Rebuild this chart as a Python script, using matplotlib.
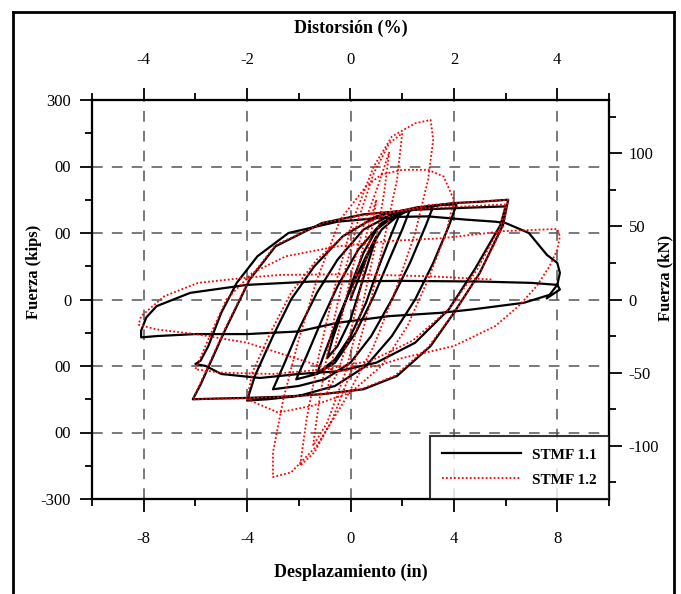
import numpy as np
import matplotlib
matplotlib.use("Agg")
import matplotlib.pyplot as plt
from matplotlib.lines import Line2D
from matplotlib.ticker import MultipleLocator

plt.rcParams['font.family'] = ['Liberation Serif', 'DejaVu Serif']
plt.rcParams['axes.unicode_minus'] = False

# STMF 1.1 (desplazamiento in, fuerza kips)
stmf11_x = [0, 0.4, 0.8, 1.0, 0.8, 0.4, 0.0, -0.5, -0.9, -0.7, -0.3, 0.1, 0.5,
            1.0, 1.5, 1.9, 1.6, 1.1, 0.6, 0.0, -0.6, -1.3, -1.0, -0.5, 0.0, 0.6, 1.2,
            1.8, 2.3, 2.0, 1.5, 0.9, 0.2, -0.6, -1.3, -2.1, -1.7, -1.1, -0.5, 0.3, 1.2, 2.0,
            2.6, 3.2, 2.9, 2.3, 1.6, 0.8, 0.0, -1.0, -2.0, -3.0, -2.6, -2.0, -1.3, -0.5, 0.5, 1.6, 2.8,
            3.5, 4.1, 3.8, 3.2, 2.5, 1.6, 0.6, -0.6, -2.0, -3.2, -4.0, -3.7, -3.0, -2.3, -1.4, -0.3,
            1.0, 2.5, 4.0,
            5.0, 6.1, 5.9, 5.0, 4.0, 3.1, 1.8, 0.5, -1.0, -2.5, -4.0, -5.2, -6.1, -5.8, -4.9, -3.9,
            -2.9, -1.1, 0.5, 2.5, 4.5, 6.0,
            5.8, 4.8, 3.8, 2.5, 1.0, -0.5, -2.0, -3.5, -5.0, -5.6, -6.0, -5.8, -5.5, -5.0, -4.4,
            -3.6, -2.4, -0.5, 1.5, 3.0, 4.5, 5.6, 6.0, 6.9, 7.6, 8.0, 8.1, 8.0,
            7.7, 6.7, 4.7, 3.5, 1.5, -0.5, -2.0, -4.0, -6.0, -7.5, -8.1,
            -8.1, -7.9, -7.5, -6.2, -4.0, -1.5, 2.0, 5.0, 7.0, 8.0, 8.1, 7.6]
stmf11_y = [0, 40, 80, 95, 70, 20, -30, -70, -88, -60, -15, 30, 70,
            105, 120, 128, 100, 50, -5, -55, -90, -112, -80, -30, 15, 65, 105,
            125, 135, 105, 60, 5, -50, -95, -112, -120, -85, -30, 20, 75, 115, 132,
            138, 140, 110, 55, 0, -55, -95, -120, -130, -135, -100, -45, 10, 60, 105, 128, 138,
            142, 143, 110, 55, 0, -55, -100, -130, -145, -150, -152, -115, -55, 0, 50, 95,
            125, 138, 145,
            147, 150, 112, 40, -20, -70, -115, -135, -142, -146, -148, -149, -150, -128, -50, 30,
            80, 115, 128, 135, 138, 140,
            112, 45, -15, -65, -95, -108, -112, -118, -112, -100, -97, -92, -70, -20, 25,
            65, 100, 117, 124, 125, 120, 117, 115, 100, 67, 55, 40, 22,
            7, -5, -15, -20, -25, -35, -48, -52, -52, -55, -57,
            -47, -27, -10, 10, 22, 27, 28, 27, 25, 22, 15, 2]

# STMF 1.2
stmf12_x = [0, 0.3, 0.7, 1.0, 0.8, 0.4, 0.0, -0.5, -0.9, -0.7, -0.3, 0.1, 0.5,
            1.1, 1.5, 1.3, 0.9, 0.4, -0.2, -0.9, -1.45, -1.2, -0.8, -0.3, 0.3, 0.9,
            1.5, 2.0, 1.8, 1.3, 0.8, 0.1, -0.7, -1.4, -1.95, -1.7, -1.2, -0.6, 0.1, 0.9, 1.6,
            2.5, 3.1, 3.2, 3.0, 2.5, 1.8, 0.9, -0.2, -1.3, -2.3, -3.0, -3.0, -2.6, -2.0, -1.3,
            -0.4, 0.6, 1.2, 2.0, 3.0, 3.6, 4.0, 3.7, 3.0, 2.2, 1.2, 0.0, -1.5, -2.8, -4.0,
            -3.8, -3.1, -2.3, -1.3, 0.0, 1.5, 3.0, 4.5,
            6.1, 5.9, 5.0, 4.0, 3.0, 1.7, 0.4, -1.2, -3.0, -4.5, -6.1, -5.8, -4.9, -3.9, -2.9,
            -1.0, 0.7, 2.7, 4.5, 6.0,
            5.8, 4.9, 3.8, 2.4, 0.8, -1.0, -3.0, -5.0, -6.0, -5.5, -4.8, -3.8, -2.5, -0.5,
            1.5, 3.5, 6.0, 8.0, 8.1, 8.0, 7.7, 7.2, 6.5, 5.6, 4.0, 2.0, 1.0, -0.5, -2.0,
            -4.0, -6.0, -7.5, -8.2, -8.1, -7.2, -5.9, -4.0, -2.7, 0.0, 3.0, 5.5]
stmf12_y = [0, 50, 110, 150, 100, 20, -50, -110, -140, -90, -20, 50, 110,
            175, 222, 160, 70, -20, -110, -185, -220, -150, -60, 30, 120, 190,
            235, 250, 180, 90, 0, -100, -180, -230, -250, -180, -80, 20, 120, 200, 245,
            265, 270, 240, 180, 100, 20, -70, -150, -220, -260, -267, -230, -150, -60, 30,
            120, 170, 188, 195, 195, 185, 150, 100, 30, -40, -100, -140, -160, -170, -150,
            -110, -50, 10, 60, 105, 130, 142, 146,
            150, 110, 40, -20, -72, -115, -135, -143, -147, -149, -150, -125, -48, 32, 82,
            116, 128, 137, 140, 143,
            110, 45, -15, -62, -92, -105, -112, -110, -105, -60, 0, 40, 65, 80,
            88, 92, 103, 106, 95, 75, 50, 20, -10, -40, -70, -88, -100, -108, -90,
            -65, -52, -45, -38, -25, 5, 25, 33, 37, 38, 35, 30]

x_major = [-8, -4, 0, 4, 8]
kips_ticks = [-300, -200, -100, 0, 100, 200, 300]
kips_labels = ['-300', '00', '00', '0', '00', '00', '300']
pct_ticks = [-4, -2, 0, 2, 4]
kn_ticks = [-100, -50, 0, 50, 100]

fig = plt.figure(figsize=(6.81, 5.94), dpi=100)
ax = fig.add_axes([92 / 681, 1 - 499 / 594, 517 / 681, 399 / 594])

ax.plot(stmf11_x, stmf11_y, color='black', lw=1.6, label='STMF 1.1', zorder=3)
ax.plot(stmf12_x, stmf12_y, color='red', lw=1.3, ls=(0, (1, 1.2)), label='STMF 1.2', zorder=4)

ax.set_xlim(-10, 10)
ax.set_ylim(-300, 300)
ax.set_xticks(x_major)
ax.xaxis.set_minor_locator(MultipleLocator(2))
ax.set_yticks(kips_ticks)
ax.set_yticklabels(kips_labels)
ax.yaxis.set_minor_locator(MultipleLocator(50))
for v in x_major:
    ax.axvline(v, color='#555555', lw=1.1, ls=(0, (7, 6)), zorder=1)
for v in kips_ticks[1:-1]:
    ax.axhline(v, color='#555555', lw=1.1, ls=(0, (7, 6)), zorder=1)

ax.tick_params(axis='both', which='major', direction='out', length=9, width=1.3, labelsize=12)
ax.tick_params(axis='both', which='minor', direction='out', length=5, width=1.3)
ax.tick_params(axis='x', pad=14)
ax.tick_params(axis='y', pad=6)
ax.set_xlabel('Desplazamiento (in)', fontsize=13, fontweight='bold', labelpad=12)
ax.set_ylabel('Fuerza (kips)', fontsize=12, fontweight='bold')
ax.yaxis.set_label_coords(-0.097, 0.57)
for s in ax.spines.values():
    s.set_linewidth(1.5)

ax_top = ax.twiny()
ax_top.set_xlim(-5, 5)
ax_top.set_xticks(pct_ticks)
ax_top.xaxis.set_minor_locator(MultipleLocator(1))
ax_top.tick_params(axis='x', which='major', direction='out', length=9, width=1.3, labelsize=12, pad=14)
ax_top.tick_params(axis='x', which='minor', direction='out', length=5, width=1.3)
ax_top.set_xlabel('Distorsión (%)', fontsize=13, fontweight='bold', labelpad=14)

ax_r = ax_top.twinx()
ax_r.set_ylim(-300 / 2.2, 300 / 2.2)
ax_r.set_yticks(kn_ticks)
ax_r.yaxis.set_minor_locator(MultipleLocator(25))
ax_r.tick_params(axis='y', which='major', direction='out', length=9, width=1.3, labelsize=12, pad=5)
ax_r.tick_params(axis='y', which='minor', direction='out', length=5, width=1.3)
ax_r.set_ylabel('Fuerza (kN)', fontsize=12, fontweight='bold', rotation=90)
ax_r.yaxis.set_label_coords(1.094, 0.555)
for a in (ax_top, ax_r):
    for s in a.spines.values():
        s.set_linewidth(1.5)

h, l = ax.get_legend_handles_labels()
leg = ax_r.legend(h, l, loc='lower right', bbox_to_anchor=(1.0, 0.0), borderaxespad=0,
                  fancybox=False, frameon=True, prop={'weight': 'bold', 'size': 11},
                  handlelength=5.2, borderpad=0.8, labelspacing=0.75, handletextpad=0.7)
leg.get_frame().set_edgecolor('black')
leg.get_frame().set_linewidth(1.5)

# marco exterior
fig.add_artist(Line2D([13 / 681, 13 / 681], [0, 1 - 12 / 594], color='black', lw=2, transform=fig.transFigure))
fig.add_artist(Line2D([13 / 681, 674 / 681], [1 - 12 / 594, 1 - 12 / 594], color='black', lw=2, transform=fig.transFigure))
fig.add_artist(Line2D([674 / 681, 674 / 681], [0, 1 - 12 / 594], color='black', lw=2, transform=fig.transFigure))

fig.savefig('out.png', dpi=100)
